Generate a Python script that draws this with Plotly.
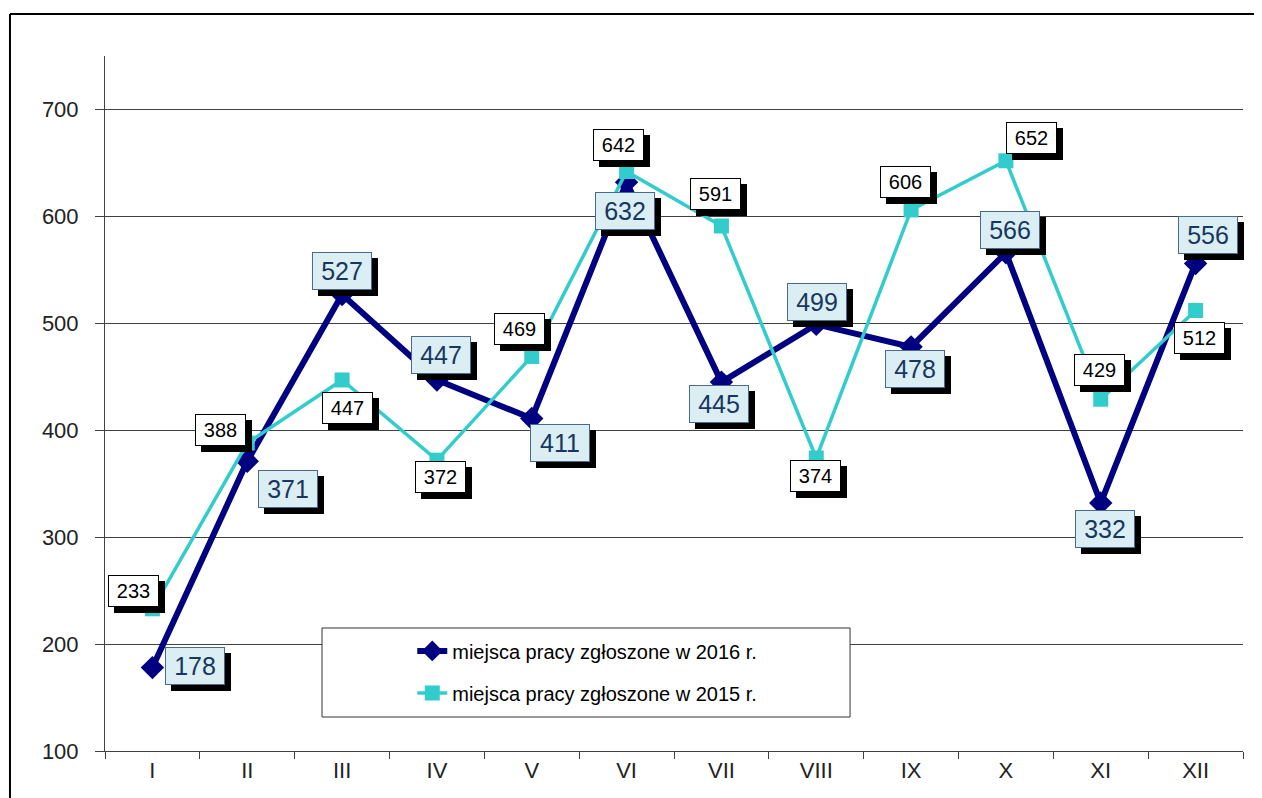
import plotly.graph_objects as go

months = ["I", "II", "III", "IV", "V", "VI", "VII", "VIII", "IX", "X", "XI", "XII"]
jobs_2016 = [178, 371, 527, 447, 411, 632, 445, 499, 478, 566, 332, 556]
jobs_2015 = [233, 388, 447, 372, 469, 642, 591, 374, 606, 652, 429, 512]
name_2016 = "miejsca pracy zgłoszone w 2016 r."
name_2015 = "miejsca pracy zgłoszone w 2015 r."

# label offsets in pixels (dx, dy up) relative to the data point
off_2016 = [(43, 2), (41, -28), (0, 23), (4, 25), (28, -25), (-2, -29),
            (-2, -22), (1, 22), (4, -22), (4, 23), (4, -26), (12, 28)]
off_2015 = [(-19, 18), (-27, 13), (5, -28), (4, -17), (-12, 27), (-8, 26),
            (-6, 32), (-1, -18), (-6, 28), (26, 23), (-1, 29), (4, -28)]

FONT = "Liberation Sans, Arial, sans-serif"
NAVY = "#000080"
TURQ = "#33CCCC"

fig = go.Figure()
fig.add_trace(go.Scatter(
    x=months, y=jobs_2016, name=name_2016, mode="lines+markers",
    line=dict(color=NAVY, width=6),
    marker=dict(symbol="diamond", size=18, color=NAVY),
    legendgroup="a",
))
fig.add_trace(go.Scatter(
    x=months, y=jobs_2015, name=name_2015, mode="lines+markers",
    line=dict(color=TURQ, width=3.5),
    marker=dict(symbol="square", size=15, color=TURQ),
    legendgroup="b",
))

annotations = []

def add_label(x, y, text, dx, dy, w, h, fs, fg, bg, border):
    # shadow
    annotations.append(dict(
        x=x, y=y, xref="x", yref="y", text=text, showarrow=False,
        xshift=dx + 6, yshift=dy - 6, width=w, height=h,
        font=dict(family=FONT, size=fs, color="black"),
        bgcolor="black", bordercolor="black", borderwidth=1, borderpad=2,
    ))
    annotations.append(dict(
        x=x, y=y, xref="x", yref="y", text=text, showarrow=False,
        xshift=dx, yshift=dy, width=w, height=h,
        font=dict(family=FONT, size=fs, color=fg),
        bgcolor=bg, bordercolor=border, borderwidth=1, borderpad=2,
    ))

for m, v, (dx, dy) in zip(months, jobs_2015, off_2015):
    add_label(m, v, str(v), dx, dy, 45, 26, 20, "black", "white", "black")
for m, v, (dx, dy) in zip(months, jobs_2016, off_2016):
    add_label(m, v, str(v), dx, dy, 54, 32, 25, "#17375E", "#DBEEF4", "#4A6A8A")

shapes = [
    # legend box
    dict(type="rect", xref="paper", yref="paper", x0=0.1907, x1=0.6547,
         y0=0.0489, y1=0.177, line=dict(color="#333333", width=1),
         fillcolor="white", layer="above"),
    # outer frame (top and left)
    dict(type="line", xref="paper", yref="paper", x0=-0.0835, x1=1.02,
         y0=1.0604, y1=1.0604, line=dict(color="black", width=2)),
    dict(type="line", xref="paper", yref="paper", x0=-0.0835, x1=-0.0835,
         y0=1.0604, y1=-0.08, line=dict(color="black", width=2)),
]

fig.update_layout(
    width=1254, height=790,
    margin=dict(l=97, r=19, t=48, b=47),
    paper_bgcolor="white", plot_bgcolor="white",
    font=dict(family=FONT, size=22, color="#222222"),
    showlegend=True,
    legend=dict(
        x=0.27, y=0.172, xanchor="left", yanchor="top",
        bgcolor="rgba(0,0,0,0)", borderwidth=0,
        font=dict(family=FONT, size=20, color="black"),
        traceorder="grouped", tracegroupgap=13,
    ),
    annotations=annotations,
    shapes=shapes,
)
fig.update_xaxes(
    type="category", range=[-0.5, len(months) - 0.5],
    tickson="boundaries", ticks="outside", ticklen=7,
    tickcolor="#404040", showline=True, linecolor="#404040", linewidth=1,
    showgrid=False, tickfont=dict(size=22, color="#222222"),
)
fig.update_yaxes(
    range=[100, 750], tickvals=[100, 200, 300, 400, 500, 600, 700],
    ticks="outside", ticklen=9, tickcolor="#404040",
    showline=True, linecolor="#404040", linewidth=1,
    showgrid=True, gridcolor="#404040", gridwidth=1, zeroline=False,
    tickfont=dict(size=22, color="#222222"), ticklabelstandoff=12,
)
fig.write_html("out.html")
